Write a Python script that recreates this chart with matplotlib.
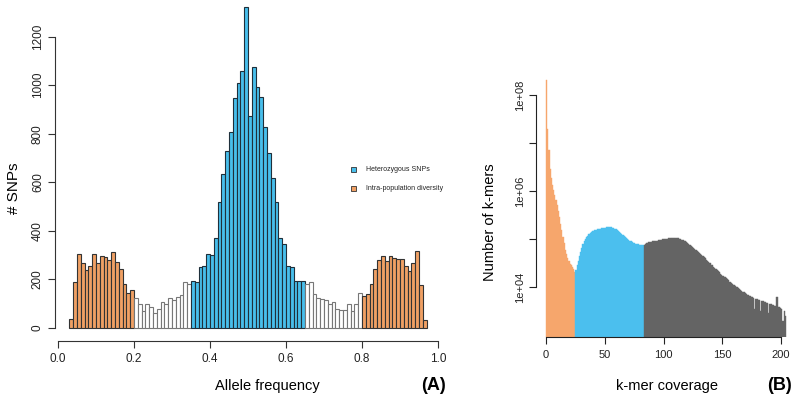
import numpy as np
import matplotlib
matplotlib.use("Agg")
import matplotlib.pyplot as plt
from matplotlib.patches import Rectangle
from matplotlib.ticker import FixedLocator, FuncFormatter, NullLocator

plt.rcParams['font.family'] = ['Liberation Sans', 'DejaVu Sans']

# ---------------- Panel A data: allele frequency histogram (bin width 0.01, first bin at 0.03)
af_first_bin = 0.03
af_bin_width = 0.01
snps_orange_low = [35, 187, 304, 267, 238, 253, 303, 265, 294, 291, 278, 311, 271, 241, 179, 142, 155]
snps_white_low = [122, 96, 68, 96, 84, 59, 76, 106, 98, 122, 114, 127, 135, 190, 180]
snps_blue_mid = [194, 188, 252, 254, 302, 298, 371, 520, 634, 729, 808, 946, 1010, 1059, 1321,
                 874, 1074, 991, 950, 829, 719, 616, 520, 371, 344, 254, 252, 192, 192, 193]
snps_white_high = [179, 187, 138, 124, 117, 113, 96, 105, 77, 72, 72, 96, 69, 96, 144]
snps_orange_high = [131, 139, 179, 241, 279, 296, 276, 296, 289, 283, 282, 256, 234, 265, 316, 176, 30]
a_xticks = [0.0, 0.2, 0.4, 0.6, 0.8, 1.0]
a_yticks = [0, 200, 400, 600, 800, 1000, 1200]
legend_labels = ["Heterozygous SNPs", "Intra-population diversity"]

# ---------------- Panel B data: k-mer spectrum, log10(count) per coverage 1..204
kmer_orange_log10 = [8.31, 7.30, 6.85, 6.45, 6.27, 6.12, 6.02, 5.92, 5.82, 5.72, 5.58, 5.46, 5.32,
                     5.18, 5.04, 4.92, 4.78, 4.68, 4.61, 4.54, 4.49, 4.46, 4.41, 4.37, 4.31]
kmer_blue_log10 = [4.36, 4.45, 4.55, 4.65, 4.74, 4.82, 4.89, 4.95, 5.00, 5.04, 5.07, 5.10, 5.12, 5.14,
                   5.16, 5.17, 5.18, 5.19, 5.20, 5.21, 5.22, 5.22, 5.23, 5.23, 5.24, 5.24, 5.25, 5.25,
                   5.25, 5.25, 5.25, 5.24, 5.23, 5.22, 5.21, 5.19, 5.17, 5.15, 5.13, 5.10, 5.08, 5.06,
                   5.04, 5.02, 5.00, 4.98, 4.96, 4.95, 4.93, 4.92, 4.91, 4.90, 4.89, 4.89, 4.88, 4.88,
                   4.87, 4.87]
kmer_gray_log10 = [4.88, 4.90, 4.91, 4.92, 4.93, 4.93, 4.94, 4.95, 4.95, 4.96, 4.97, 4.97, 4.98, 4.98,
                   4.99, 4.99, 5.00, 5.00, 5.01, 5.01, 5.01, 5.02, 5.02, 5.02, 5.03, 5.03, 5.03, 5.03,
                   5.02, 5.02, 5.01, 5.00, 4.99, 4.98, 4.96, 4.95, 4.93, 4.91, 4.90, 4.88, 4.86, 4.84,
                   4.82, 4.80, 4.78, 4.75, 4.73, 4.71, 4.69, 4.66, 4.64, 4.62, 4.60, 4.57, 4.55, 4.52,
                   4.50, 4.47, 4.45, 4.42, 4.40, 4.38, 4.36, 4.33, 4.31, 4.28, 4.26, 4.24, 4.22, 4.20,
                   4.18, 4.16, 4.14, 4.11, 4.09, 4.07, 4.05, 4.04, 4.02, 4.00, 3.98, 3.96, 3.94, 3.92,
                   3.90, 3.89, 3.87, 3.86, 3.84, 3.83, 3.81, 3.80, 3.79, 3.78, 3.55, 3.76, 3.75, 3.74,
                   3.73, 3.50, 3.71, 3.70, 3.69, 3.68, 3.67, 3.66, 3.45, 3.65, 3.64, 3.63, 3.62, 3.61,
                   3.60, 3.80, 3.59, 3.58, 3.56, 3.55, 3.30, 3.50, 3.40]
b_xticks = [0, 50, 100, 150, 200]
b_yticks = [1e4, 1e5, 1e6, 1e7, 1e8]
b_ylabels_shown = [1e4, 1e6, 1e8]

# ---------------- styling
ORANGE_A = '#F0A064'
BLUE_A = '#48BEEB'
ORANGE_B = '#F6A66C'
BLUE_B = '#4BBFEE'
GRAY_B = '#646464'

W, H = 800, 403
fig = plt.figure(figsize=(8, 4.03), dpi=100)


def ax_px(l, t, r, b):
    return fig.add_axes([l / W, 1 - b / H, (r - l) / W, (b - t) / H])


def ftext(x, y, s, **kw):
    fig.text(x / W, 1 - y / H, s, **kw)


# ---------------- Panel A
axA = ax_px(55, -5.4, 441, 340.5)
segments = [(snps_orange_low, ORANGE_A, '#333333'), (snps_white_low, 'white', '#777777'),
            (snps_blue_mid, BLUE_A, '#1f2f3a'), (snps_white_high, 'white', '#777777'),
            (snps_orange_high, ORANGE_A, '#333333')]
i0 = 0
for vals, fc, ec in segments:
    x = af_first_bin + af_bin_width * np.arange(i0, i0 + len(vals))
    axA.bar(x, vals, width=af_bin_width, align='edge', color=fc, edgecolor=ec, linewidth=0.8)
    i0 += len(vals)
axA.set_xlim(-0.0076, 1.0076)
axA.set_ylim(-52.8, 1373.8)
for s in ['top', 'right']:
    axA.spines[s].set_visible(False)
axA.spines['left'].set_bounds(0, 1200)
axA.spines['bottom'].set_bounds(0, 1)
for s in ['left', 'bottom']:
    axA.spines[s].set_color('#333333')
    axA.spines[s].set_linewidth(0.8)
axA.set_xticks(a_xticks)
axA.set_xticklabels([f"{v:.1f}" for v in a_xticks])
axA.set_yticks(a_yticks)
axA.set_yticklabels([str(v) for v in a_yticks], rotation=90, va='center')
axA.tick_params(direction='out', length=5, width=0.8, color='#333333', labelsize=8.5, pad=4,
                labelcolor='#222222')
axA.tick_params(axis='y', pad=3)
axA.patch.set_alpha(0)

ftext(267.5, 386, 'Allele frequency', ha='center', va='center', fontsize=10.5)
ftext(434, 386, '(A)', ha='center', va='center', fontsize=13, fontweight='bold')
ftext(14, 188, '# SNPs', ha='center', va='center', fontsize=11, rotation=90)

# legend
for (lab, col, yc) in [(legend_labels[0], BLUE_A, 169.5), (legend_labels[1], ORANGE_A, 188.5)]:
    fig.add_artist(Rectangle((350.8 / W, 1 - (yc + 2.6) / H), 5.2 / W, 5.2 / H,
                             transform=fig.transFigure, facecolor=col, edgecolor='#333333',
                             linewidth=0.6))
    ftext(366, yc, lab, ha='left', va='center', fontsize=5, color='#222222')

# ---------------- Panel B
axB = ax_px(536, 60, 790, 337)
i0 = 0
for vals, col in [(kmer_orange_log10, ORANGE_B), (kmer_blue_log10, BLUE_B), (kmer_gray_log10, GRAY_B)]:
    cov = np.arange(i0, i0 + len(vals))
    axB.bar(cov, np.power(10.0, vals), width=1.0, align='edge', bottom=1.0, color=col,
            edgecolor=col, linewidth=0.3)
    i0 += len(vals)
axB.set_yscale('log')
axB.set_xlim(-8.5, 207.5)
axB.set_ylim(10 ** 2.96, 10 ** 8.73)
for s in ['top', 'right']:
    axB.spines[s].set_visible(False)
axB.spines['left'].set_bounds(1e4, 1e8)
axB.spines['bottom'].set_bounds(0, 200)
for s in ['left', 'bottom']:
    axB.spines[s].set_color('#222222')
    axB.spines[s].set_linewidth(0.8)
axB.set_xticks(b_xticks)
axB.set_xticklabels([str(v) for v in b_xticks])
axB.yaxis.set_major_locator(FixedLocator(b_yticks))
axB.yaxis.set_minor_locator(NullLocator())
axB.yaxis.set_major_formatter(FuncFormatter(
    lambda v, p: ("1e+%02d" % int(round(np.log10(v)))) if any(abs(v - s) < 1e-6 * s for s in b_ylabels_shown) else ""))
for lab in axB.get_yticklabels():
    lab.set_rotation(90)
    lab.set_va('center')
axB.tick_params(direction='out', length=5, width=0.8, color='#222222', labelsize=8, pad=4,
                labelcolor='#222222')
axB.tick_params(axis='y', pad=3, labelrotation=90)
axB.patch.set_alpha(0)

ftext(667, 386, 'k-mer coverage', ha='center', va='center', fontsize=10.5)
ftext(779, 386, '(B)', ha='center', va='center', fontsize=13, fontweight='bold')
ftext(490, 222, 'Number of k-mers', ha='center', va='center', fontsize=10.5, rotation=90)

fig.savefig('out.png', dpi=100)
